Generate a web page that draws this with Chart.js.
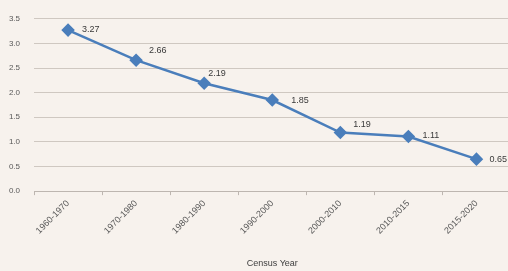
<!DOCTYPE html>
<html lang="en">
<head>
    <meta charset="UTF-8">
    <title>Census Year Chart</title>
    <script src="https://cdn.jsdelivr.net/npm/chart.js"></script>
    <style>
        html, body { margin: 0; padding: 0; background: #f7f2ed; overflow: hidden; }
        #wrap { width: 518px; height: 273px; position: relative; }
    </style>
</head>
<body>
<div id="wrap"><canvas id="lineChart"></canvas></div>
<script>
    // chart data
    const years = ['1960-1970', '1970-1980', '1980-1990', '1990-2000', '2000-2010', '2010-2015', '2015-2020'];
    const rates = [3.27, 2.66, 2.19, 1.85, 1.19, 1.11, 0.65];
    const rateLabels = ['3.27', '2.66', '2.19', '1.85', '1.19', '1.11', '0.65'];

    // value labels next to each point
    const valueLabels = {
        id: 'valueLabels',
        afterDatasetsDraw(chart) {
            const ctx = chart.ctx;
            const meta = chart.getDatasetMeta(0);
            const offsets = [[14, -1], [13, -10], [4, -10], [19, 0], [13, -8], [14, -1], [13, 0]];
            ctx.save();
            ctx.font = '9px "Liberation Sans", Arial, sans-serif';
            ctx.fillStyle = '#3a3a3a';
            ctx.textBaseline = 'middle';
            meta.data.forEach((pt, i) => {
                ctx.fillText(rateLabels[i], pt.x + offsets[i][0], pt.y + offsets[i][1]);
            });
            ctx.restore();
        }
    };

    new Chart(document.getElementById('lineChart'), {
        type: 'line',
        data: {
            labels: years,
            datasets: [{
                data: rates,
                borderColor: '#4a7ebb',
                borderWidth: 2.5,
                pointStyle: 'rectRot',
                pointRadius: 5,
                pointBackgroundColor: '#4a7ebb',
                pointBorderColor: '#4a7ebb',
                fill: false,
                tension: 0
            }]
        },
        options: {
            responsive: true,
            maintainAspectRatio: false,
            animation: false,
            layout: { padding: { left: 0, right: 0, top: 5, bottom: 0 } },
            plugins: {
                legend: { display: false },
                tooltip: { enabled: false }
            },
            scales: {
                x: {
                    offset: true,
                    grid: {
                        display: true,
                        drawOnChartArea: false,
                        offset: true,
                        color: '#bdb6b0',
                        tickLength: 4
                    },
                    border: { color: '#bdb6b0' },
                    ticks: {
                        minRotation: 45,
                        maxRotation: 45,
                        color: '#595959',
                        font: { size: 9, family: '"Liberation Sans", Arial, sans-serif' }
                    },
                    title: {
                        display: true,
                        text: 'Census Year',
                        color: '#404040',
                        font: { size: 9, family: '"Liberation Sans", Arial, sans-serif' },
                        padding: { top: 19 }
                    }
                },
                y: {
                    min: 0,
                    max: 3.5,
                    afterFit: s => { s.width = 34; },
                    ticks: {
                        stepSize: 0.5,
                        color: '#595959',
                        padding: 14,
                        font: { size: 8, family: '"Liberation Sans", Arial, sans-serif' },
                        callback: v => v.toFixed(1)
                    },
                    grid: { color: '#cfc8c1', drawTicks: false },
                    border: { display: false }
                }
            }
        },
        plugins: [valueLabels]
    });
</script>
</body>
</html>
